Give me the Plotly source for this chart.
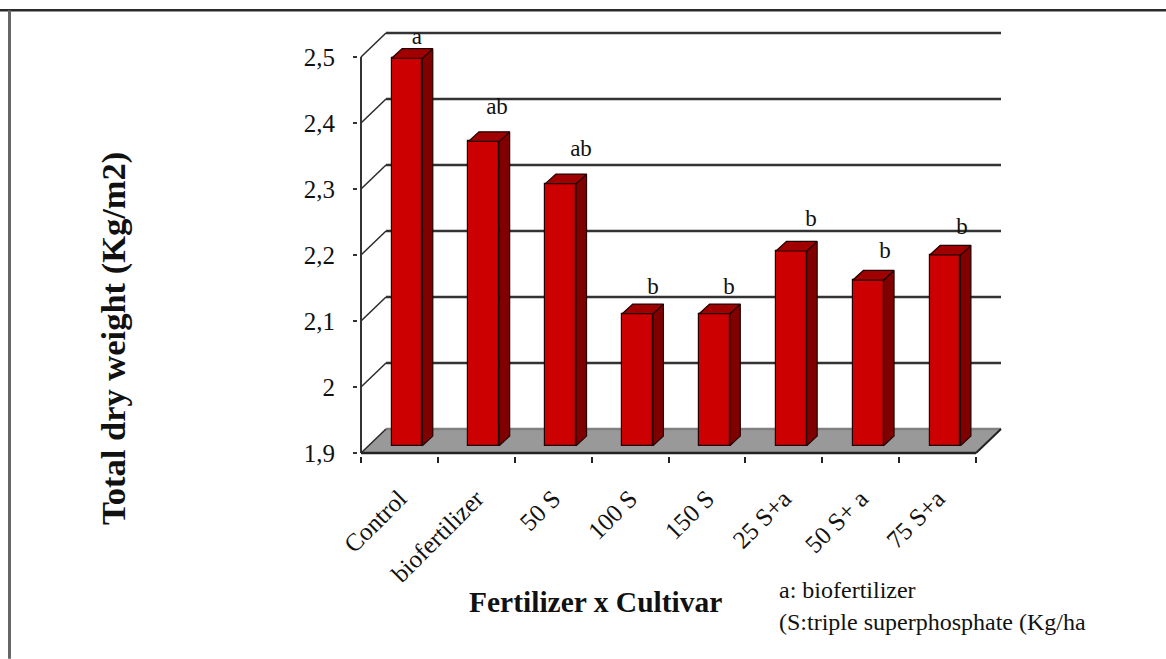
import plotly.graph_objects as go

categories = ["Control", "biofertilizer", "50 S", "100 S", "150 S", "25 S+a", "50 S+ a", "75 S+a"]
values = [2.487, 2.361, 2.297, 2.10, 2.10, 2.195, 2.151, 2.189]
letters = ["a", "ab", "ab", "b", "b", "b", "b", "b"]
letter_x = [0.728, 1.769, 2.862, 3.798, 4.787, 5.854, 6.816, 7.818]
letter_y = [2.528, 2.422, 2.359, 2.15, 2.15, 2.253, 2.204, 2.241]
y_ticks = [1.9, 2.0, 2.1, 2.2, 2.3, 2.4, 2.5]
y_tick_labels = ["1,9", "2", "2,1", "2,2", "2,3", "2,4", "2,5"]

W, H = 1166, 659
X0, X1, Y0 = 361.0, 976.0, 453.0        # front floor edge in page pixels
PAD = 3.0
n = len(categories)
unit_x = (X1 - X0) / n
unit_y = (Y0 - 56.7) / 0.6
depth_x = 25.0 / unit_x
depth_y = 24.0 / unit_y
y_base = y_ticks[0]
y_top = y_ticks[-1] + depth_y
x_range = [-PAD / unit_x, n + depth_x + PAD / unit_x]
y_range = [y_base - PAD / unit_y, y_top + PAD / unit_y]
L = X0 - PAD
R = L + (x_range[1] - x_range[0]) * unit_x
B = Y0 + PAD
T = B - (y_range[1] - y_range[0]) * unit_y

bar_w = 30.7 / unit_x
off_x = 7.5 / unit_x + 0.5 - bar_w / 2
off_y = 7.3 / unit_y
bd_x = 10.5 / unit_x
bd_y = 9.6 / unit_y


def px(x):
    return (x - L) / (R - L)


def py(y):
    return (B - y) / (B - T)


fig = go.Figure()
shapes = []
shapes.append(dict(type="path", layer="below", xref="x", yref="y",
                   path=f"M0,{y_base} L{n},{y_base} L{n + depth_x},{y_base + depth_y} L{depth_x},{y_base + depth_y} Z",
                   fillcolor="#999999", line=dict(width=0)))
for v in y_ticks:
    shapes.append(dict(type="line", layer="below", xref="x", yref="y", x0=depth_x, x1=n + depth_x,
                       y0=v + depth_y, y1=v + depth_y,
                       line=dict(color="#333333" if v > y_base else "#808080", width=2.5)))
    shapes.append(dict(type="line", layer="below", xref="x", yref="y", x0=0, x1=depth_x,
                       y0=v, y1=v + depth_y, line=dict(color="#2a2a2a", width=1.5)))
shapes.append(dict(type="line", layer="below", xref="x", yref="y", x0=0, x1=0, y0=y_base, y1=y_ticks[-1],
                   line=dict(color="#333333", width=2)))
shapes.append(dict(type="line", layer="below", xref="x", yref="y", x0=0, x1=n, y0=y_base, y1=y_base,
                   line=dict(color="#222222", width=2.5)))
shapes.append(dict(type="line", layer="below", xref="x", yref="y", x0=n, x1=n + depth_x, y0=y_base,
                   y1=y_base + depth_y, line=dict(color="#222222", width=2)))
shapes.append(dict(type="line", xref="paper", yref="paper", x0=px(0), x1=px(W), y0=py(10), y1=py(10),
                   line=dict(color="#2a2a2a", width=2.5)))
shapes.append(dict(type="line", xref="paper", yref="paper", x0=px(9.5), x1=px(9.5), y0=py(10), y1=py(H),
                   line=dict(color="#666666", width=3)))

bar_x = [i + off_x + bar_w / 2 for i in range(n)]
base = y_base + off_y
fig.add_trace(go.Bar(x=bar_x, y=[v - y_base for v in values], base=base, width=bar_w,
                     marker=dict(color="#CC0000", line=dict(color="#200000", width=1.2)),
                     showlegend=False, hoverinfo="skip"))

for cx, v in zip(bar_x, values):
    x0, x1 = cx - bar_w / 2, cx + bar_w / 2
    top = v + off_y
    fig.add_trace(go.Scatter(x=[x1, x1 + bd_x, x1 + bd_x, x1, x1],
                             y=[base, base + bd_y, top + bd_y, top, base],
                             mode="lines", fill="toself", fillcolor="#800000",
                             line=dict(color="#200000", width=1.2), showlegend=False, hoverinfo="skip"))
    fig.add_trace(go.Scatter(x=[x0, x1, x1 + bd_x, x0 + bd_x, x0],
                             y=[top, top, top + bd_y, top + bd_y, top],
                             mode="lines", fill="toself", fillcolor="#A00000",
                             line=dict(color="#200000", width=1.2), showlegend=False, hoverinfo="skip"))

fig.add_trace(go.Scatter(x=letter_x, y=letter_y, mode="text", text=letters,
                         textfont=dict(family="Liberation Serif", size=23, color="#111111"),
                         textposition="middle center", cliponaxis=False, showlegend=False, hoverinfo="skip"))

centres = [i + 0.5 for i in range(n)]
fig.add_trace(go.Scatter(x=centres, y=values, xaxis="x2", mode="markers", marker=dict(opacity=0),
                         showlegend=False, hoverinfo="skip"))

fig.update_layout(
    width=W, height=H, autosize=False,
    paper_bgcolor="white", plot_bgcolor="white",
    margin=dict(l=L, r=W - R, t=T, b=H - B, pad=0),
    bargap=0, shapes=shapes,
    font=dict(family="Liberation Serif", color="#111111"),
    xaxis=dict(range=x_range, tickvals=list(range(n + 1)), ticktext=[""] * (n + 1),
               ticks="outside", ticklen=6, tickwidth=1.5, tickcolor="#222222", showgrid=False, zeroline=False,
               showline=False),
    xaxis2=dict(range=x_range, overlaying="x", side="bottom", anchor="y", tickvals=centres, ticktext=categories,
                tickangle=-45, ticks="outside", ticklen=17, tickcolor="rgba(0,0,0,0)",
                tickfont=dict(family="Liberation Serif", size=25, color="#111111"),
                showgrid=False, zeroline=False, showline=False),
    yaxis=dict(range=y_range, tickvals=y_ticks, ticktext=y_tick_labels, ticks="outside", ticklen=4,
               tickwidth=1.5, tickcolor="#333333", ticklabelstandoff=13,
               tickfont=dict(family="Liberation Serif", size=25, color="#111111"),
               showgrid=False, zeroline=False, showline=False),
    annotations=[
        dict(text="<b>Total dry weight (Kg/m2)</b>", xref="paper", yref="paper", x=px(113), y=py(338), textangle=-90,
             showarrow=False, xanchor="center", yanchor="middle",
             font=dict(family="Liberation Serif", size=34.5, color="#111111")),
        dict(text="<b>Fertilizer x Cultivar</b>", xref="paper", yref="paper", x=px(595), y=py(602),
             showarrow=False, xanchor="center", yanchor="middle",
             font=dict(family="Liberation Serif", size=29.5, color="#111111")),
        dict(text="a: biofertilizer", xref="paper", yref="paper", x=px(777), y=py(590),
             showarrow=False, xanchor="left", yanchor="middle",
             font=dict(family="Liberation Serif", size=24, color="#111111")),
        dict(text="(S:triple superphosphate (Kg/ha", xref="paper", yref="paper", x=px(777), y=py(622),
             showarrow=False, xanchor="left", yanchor="middle",
             font=dict(family="Liberation Serif", size=24, color="#111111")),
    ],
)
fig.write_html("out.html", config={"displayModeBar": False},
               post_script="document.body.style.margin='0';document.body.style.overflow='hidden';")
